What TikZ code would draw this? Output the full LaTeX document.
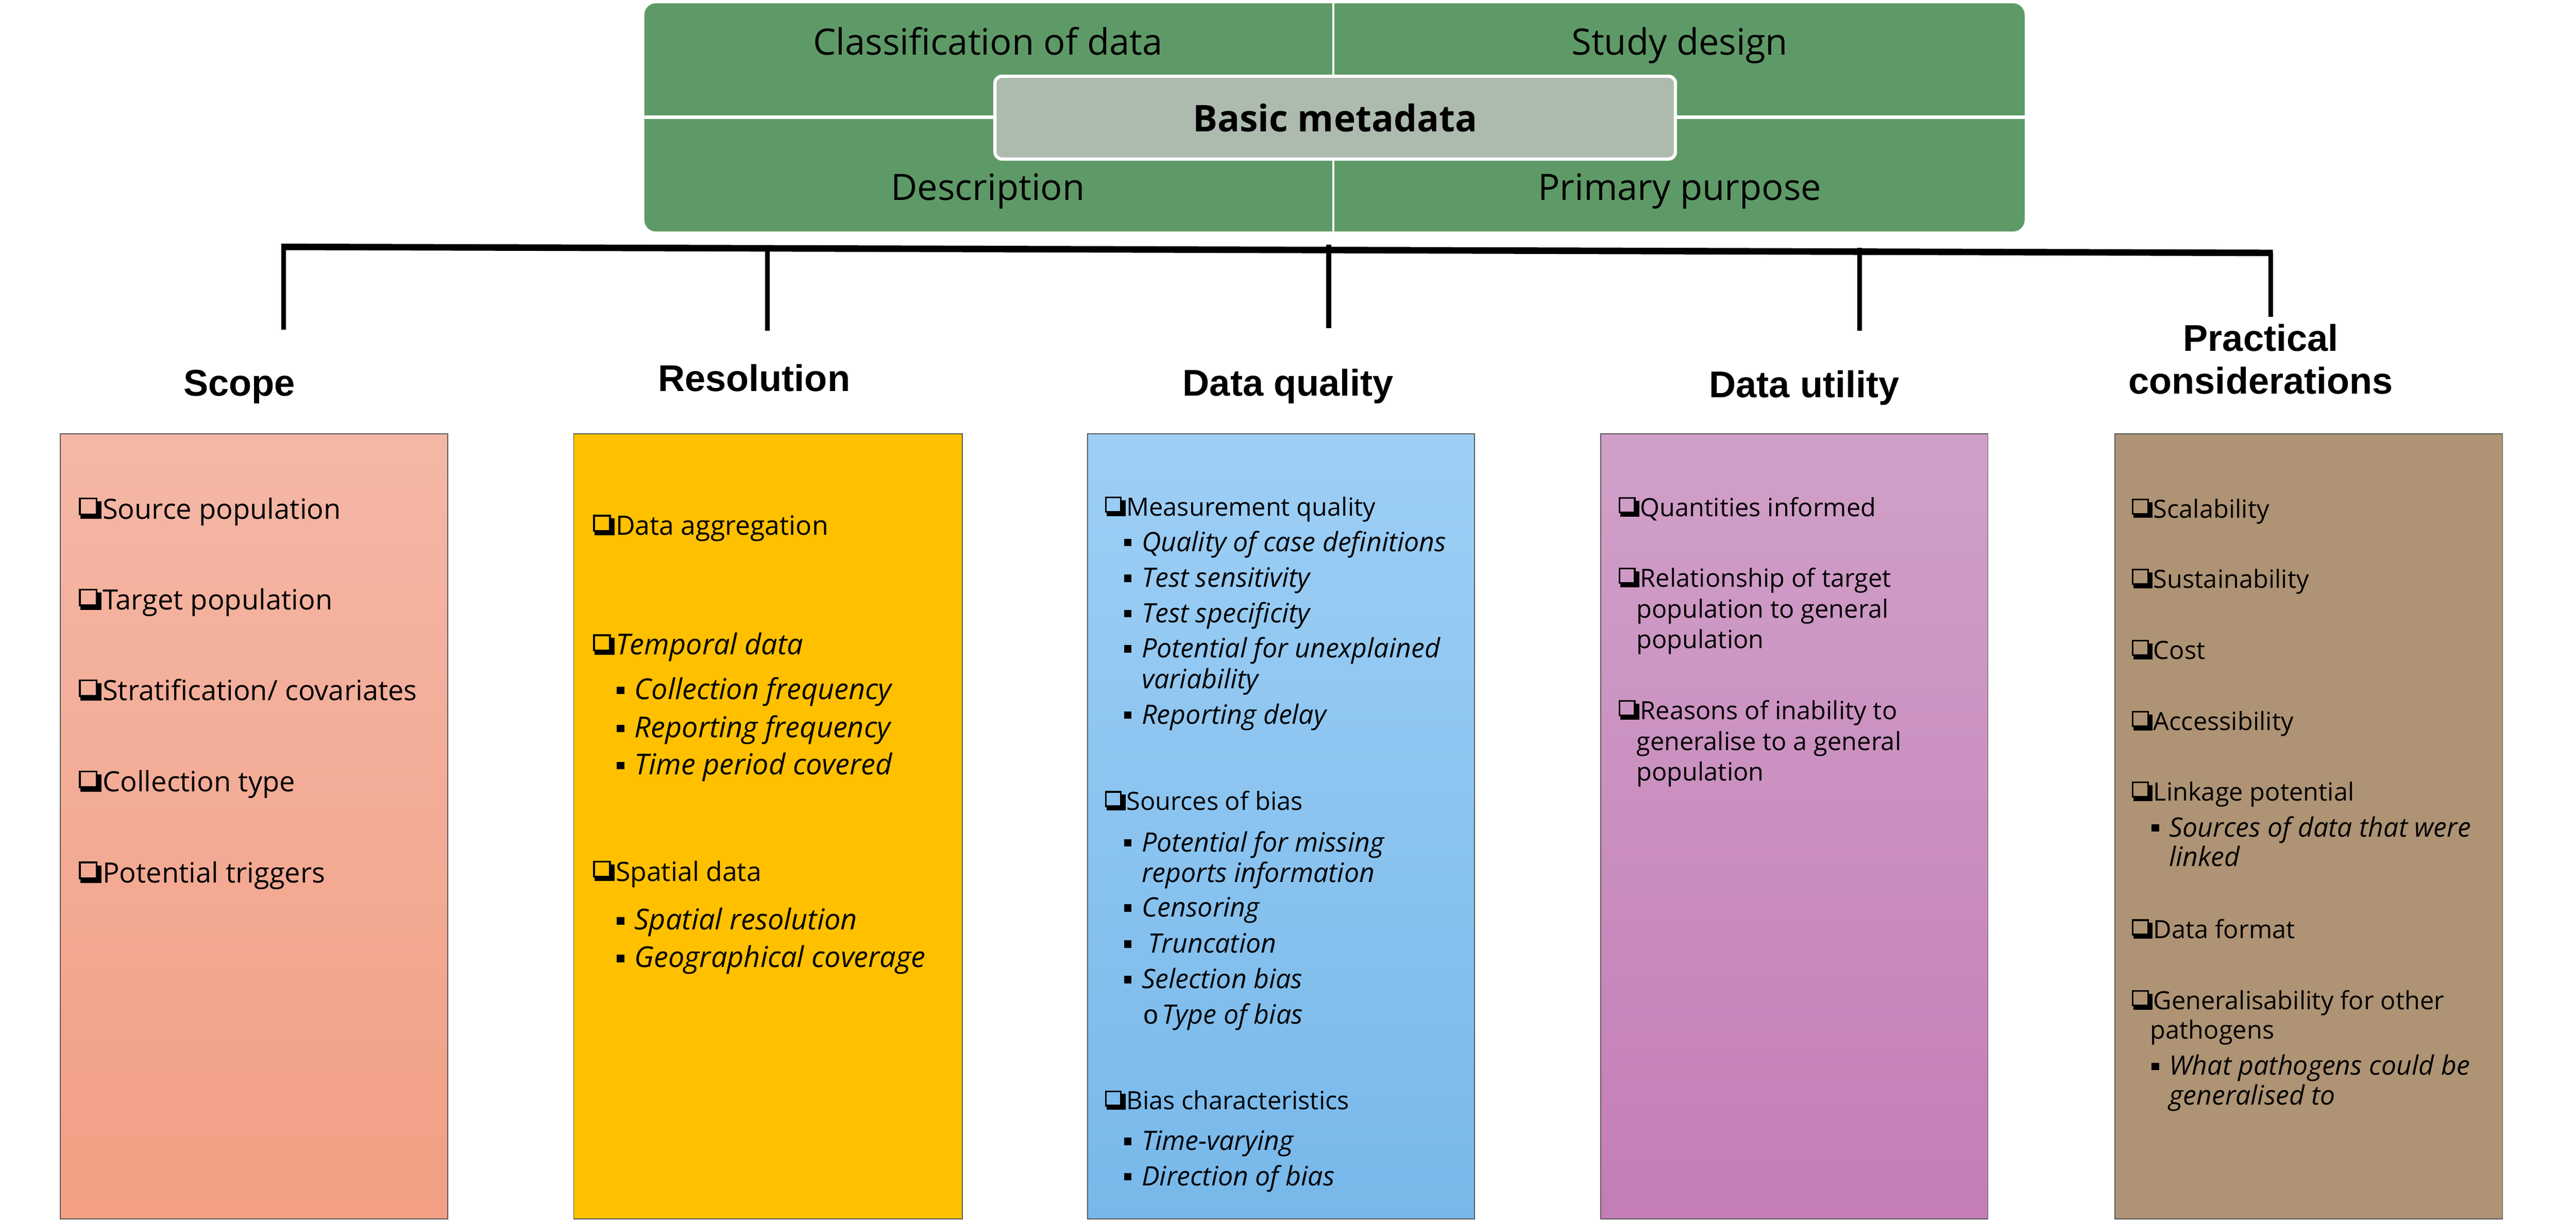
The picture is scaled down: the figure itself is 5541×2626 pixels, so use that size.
\documentclass[tikz,border=0pt]{standalone}
\usepackage{fontspec}
\usepackage{graphicx}
\setmainfont{Open Sans}
\newfontfamily\arialf{Liberation Sans}
\newfontfamily\monof{Liberation Mono}
\newcommand{\cbx}{\makebox[0.46cm][l]{%
\rlap{\raisebox{0.07cm}{\rule{0.035cm}{0.34cm}}}%
\rlap{\raisebox{0.38cm}{\rule{0.36cm}{0.035cm}}}%
\rlap{\hspace{0.325cm}\raisebox{0.07cm}{\rule{0.035cm}{0.34cm}}}%
\rlap{\raisebox{0.07cm}{\rule{0.36cm}{0.035cm}}}%
\rlap{\hspace{0.36cm}\rule{0.08cm}{0.34cm}}%
\rlap{\hspace{0.03cm}\rule{0.41cm}{0.07cm}}}}
\newcommand{\cbxS}{\scalebox{1.1}{\cbx}}
\newcommand{\cbxR}{\scalebox{1.05}{\cbx}}
\newcommand{\blt}{\makebox[0.38cm][l]{\rule[0.11cm]{0.16cm}{0.16cm}}}
\newcommand{\crc}{\makebox[0.41cm][l]{\monof\upshape o}}
\definecolor{mgreen}{HTML}{5E9A67}
\definecolor{mgray}{HTML}{ADBBAE}
\definecolor{scA}{HTML}{F4B7A6}
\definecolor{scB}{HTML}{F29F84}
\definecolor{reA}{HTML}{FFC000}
\definecolor{dqA}{HTML}{9ECFF5}
\definecolor{dqB}{HTML}{77B8EA}
\definecolor{duA}{HTML}{D0A0C8}
\definecolor{duB}{HTML}{C47DB6}
\definecolor{pcA}{HTML}{AE9374}
\tikzset{
 item/.style={anchor=base west, inner sep=0pt, outer sep=0pt, align=left, font=\fontsize{15.36}{18.8}\selectfont},
 itemi/.style={item, font=\fontsize{16.36}{18.8}\selectfont\itshape},
 itemS/.style={item, font=\fontsize{17.1}{18.8}\selectfont},
 itemR/.style={item, font=\fontsize{16.3}{18.8}\selectfont},
 itemRi/.style={item, font=\fontsize{17.6}{18.8}\selectfont\itshape},
 itemP/.style={item, font=\fontsize{15.36}{18}\selectfont},
 itemPi/.style={item, font=\fontsize{16.36}{18}\selectfont\itshape},
 ttl/.style={anchor=base, inner sep=0pt, align=center, font=\arialf\bfseries\fontsize{22.76}{26.2}\selectfont},
 hdr/.style={anchor=base, inner sep=0pt, font=\fontsize{22.2}{24}\selectfont},
 col/.style={draw=black!65, line width=0.02cm},
 conn/.style={line width=0.1cm},
 barline/.style={line width=0.14cm},
}
\begin{document}
\begin{tikzpicture}[x=0.01cm,y=-0.01cm]
\useasboundingbox (0,0) rectangle (5541,2626);
% top metadata block
\fill[mgreen, rounded corners=0.25cm] (1386,7) rectangle (4355,498);
\draw[white, line width=0.05cm] (2868,7) -- (2868,498);
\draw[white, line width=0.08cm] (1386,252) -- (4355,252);
\node[hdr] (cls) at (2125,118) {Classification of data};
\node[hdr] (sdy) at (3613,118) {Study design};
\node[hdr] (dsc) at (2125,430) {Description};
\node[hdr] (prp) at (3613,430) {Primary purpose};
\node[fill=mgray, draw=white, line width=0.07cm, rounded corners=0.15cm,
      minimum width=14.63cm, minimum height=1.78cm, inner sep=0pt,
      font=\bfseries\fontsize{22.5}{26}\selectfont] (meta) at (2872,253) {Basic metadata};
% connector bar
\coordinate (barL) at (605,531);
\coordinate (barR) at (4889,544);
\draw[barline] (barL) -- (barR);
\coordinate (v1a) at (610,531);  \coordinate (v1b) at (610,709);
\coordinate (v2a) at (1651,535); \coordinate (v2b) at (1651,711);
\coordinate (v3a) at (2858,526); \coordinate (v3b) at (2858,706);
\coordinate (v4a) at (4000,533); \coordinate (v4b) at (4000,711);
\coordinate (v5a) at (4884,544); \coordinate (v5b) at (4884,682);
\draw[conn] (v1a) -- (v1b);
\draw[conn] (v2a) -- (v2b);
\draw[conn] (v3a) -- (v3b);
\draw[conn] (v4a) -- (v4b);
\draw[conn] (v5a) -- (v5b);
% titles
\node[ttl] (tsc) at (515,852) {Scope};
\node[ttl] (tre) at (1622,842) {Resolution};
\node[ttl] (tdq) at (2771,852) {Data quality};
\node[ttl] (tdu) at (3881,855) {Data utility};
\node[ttl] (tpc) at (4863,847) {Practical\\considerations};
% columns
\path[col, top color=scA, bottom color=scB] (130,933) rectangle (963,2622);
\path[col, fill=reA] (1234,933) rectangle (2070,2622);
\path[col, top color=dqA, bottom color=dqB] (2339,933) rectangle (3172,2622);
\path[col, top color=duA, bottom color=duB] (3443,933) rectangle (4276,2622);
\path[col, fill=pcA] (4549,933) rectangle (5383,2622);
% Scope
\node[itemS] (s1) at (170,1116) {\cbxS Source population};
\node[itemS] (s2) at (170,1312) {\cbxS Target population};
\node[itemS] (s3) at (170,1507) {\cbxS Stratification/ covariates};
\node[itemS] (s4) at (170,1703) {\cbxS Collection type};
\node[itemS] (s5) at (170,1899) {\cbxS Potential triggers};
% Resolution
\node[itemR] (r1) at (1276,1151) {\cbxR Data aggregation};
\node[itemRi] (r2) at (1276,1408) {\cbxR Temporal data};
\node[itemRi] (r3) at (1327,1504) {\blt Collection frequency};
\node[itemRi] (r4) at (1327,1586) {\blt Reporting frequency};
\node[itemRi] (r5) at (1327,1666) {\blt Time period covered};
\node[itemR] (r6) at (1276,1895) {\cbxR Spatial data};
\node[itemRi] (r7) at (1327,2000) {\blt Spatial resolution};
\node[itemRi] (r8) at (1327,2081) {\blt Geographical coverage};
% Data quality
\node[item] (q1) at (2377,1110) {\cbx Measurement quality};
\node[itemi] (q2) at (2418,1186) {\blt Quality of case definitions};
\node[itemi] (q3) at (2418,1263) {\blt Test sensitivity};
\node[itemi] (q4) at (2418,1339) {\blt Test specificity};
\node[itemi] (q5) at (2418,1481) {\blt Potential for unexplained\\\hspace*{0.38cm}variability};
\node[itemi] (q6) at (2418,1557) {\blt Reporting delay};
\node[item] (q7) at (2377,1743) {\cbx Sources of bias};
\node[itemi] (q8) at (2418,1898) {\blt Potential for missing\\\hspace*{0.38cm}reports information};
\node[itemi] (q9) at (2418,1972) {\blt Censoring};
\node[itemi] (q10) at (2418,2050) {\blt\hspace{0.14cm}Truncation};
\node[itemi] (q11) at (2418,2126) {\blt Selection bias};
\node[itemi] (q12) at (2459,2202) {\crc Type of bias};
\node[item] (q13) at (2377,2387) {\cbx Bias characteristics};
\node[itemi] (q14) at (2418,2474) {\blt Time-varying};
\node[itemi] (q15) at (2418,2550) {\blt Direction of bias};
% Data utility
\node[item] (u1) at (3482,1111) {\cbx Quantities informed};
\node[item] (u2) at (3482,1395) {\cbx Relationship of target\\\hspace*{0.38cm}population to general\\\hspace*{0.38cm}population};
\node[item] (u3) at (3482,1680) {\cbx Reasons of inability to\\\hspace*{0.38cm}generalise to a general\\\hspace*{0.38cm}population};
% Practical considerations
\node[itemP] (p1) at (4586,1114) {\cbx Scalability};
\node[itemP] (p2) at (4586,1265) {\cbx Sustainability};
\node[itemP] (p3) at (4586,1418) {\cbx Cost};
\node[itemP] (p4) at (4586,1571) {\cbx Accessibility};
\node[itemP] (p5) at (4586,1723) {\cbx Linkage potential};
\node[itemPi] (p6) at (4628,1863) {\blt Sources of data that were\\\hspace*{0.38cm}linked};
\node[itemP] (p7) at (4586,2019) {\cbx Data format};
\node[itemP] (p8) at (4586,2235) {\cbx Generalisability for other\\\hspace*{0.39cm}pathogens};
\node[itemPi] (p9) at (4628,2376) {\blt What pathogens could be\\\hspace*{0.38cm}generalised to};
\end{tikzpicture}
\end{document}
